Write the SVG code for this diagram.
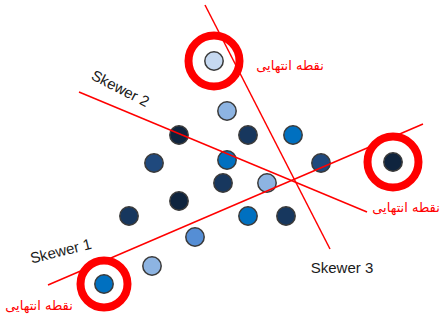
<svg xmlns="http://www.w3.org/2000/svg" width="440" height="321" viewBox="0 0 440 321">
<style>
.dot{stroke:#3a3a3a;stroke-width:1.5}
.ring{fill:none;stroke:#FF0000;stroke-width:8}
.skewer{stroke:#FF0000;stroke-width:1.5;fill:none}
.lbl{font-family:"Liberation Sans",Arial,sans-serif;font-size:15px;fill:#1a1a1a;text-anchor:middle}
.ar{font-family:"DejaVu Sans",sans-serif;font-size:13px;fill:#FF0000;text-anchor:middle}
</style>
<rect width="440" height="321" fill="#fff"/>
<g id="dots">
<g id="p1"><circle class="dot" cx="214" cy="61" r="9.2" fill="#C6D9F1"/></g>
<g id="p2"><circle class="dot" cx="227" cy="111" r="9.2" fill="#8DB4E2"/></g>
<g id="p3"><circle class="dot" cx="179" cy="135" r="9.2" fill="#0F243E"/></g>
<g id="p4"><circle class="dot" cx="248" cy="135" r="9.2" fill="#17375E"/></g>
<g id="p5"><circle class="dot" cx="293" cy="135" r="9.2" fill="#0070C0"/></g>
<g id="p6"><circle class="dot" cx="154" cy="163" r="9.2" fill="#1F497D"/></g>
<g id="p7"><circle class="dot" cx="227" cy="160" r="9.2" fill="#0070C0"/></g>
<g id="p8"><circle class="dot" cx="321" cy="163" r="9.2" fill="#1F497D"/></g>
<g id="p9"><circle class="dot" cx="223" cy="183" r="9.2" fill="#17375E"/></g>
<g id="p10"><circle class="dot" cx="267" cy="183" r="9.2" fill="#8DB4E2"/></g>
<g id="p11"><circle class="dot" cx="179" cy="201" r="9.2" fill="#0F243E"/></g>
<g id="p12"><circle class="dot" cx="129" cy="216" r="9.2" fill="#17375E"/></g>
<g id="p13"><circle class="dot" cx="248" cy="216" r="9.2" fill="#0070C0"/></g>
<g id="p14"><circle class="dot" cx="286" cy="216" r="9.2" fill="#17375E"/></g>
<g id="p15"><circle class="dot" cx="195" cy="237" r="9.2" fill="#558ED5"/></g>
<g id="p16"><circle class="dot" cx="152" cy="266" r="9.2" fill="#8DB4E2"/></g>
<g id="p17"><circle class="dot" cx="104" cy="284" r="9.2" fill="#0070C0"/></g>
<g id="p18"><circle class="dot" cx="393" cy="162" r="9.2" fill="#0F243E"/></g>
</g>
<g id="connectors">
<line class="skewer" x1="48" y1="285" x2="423" y2="124"/>
<line class="skewer" x1="79" y1="92" x2="367" y2="212"/>
<line class="skewer" x1="205" y1="5" x2="330" y2="249"/>
</g>
<g id="endpoints">
<g id="end-top"><circle class="ring" cx="214" cy="61" r="25.5"/><text class="ar" x="290" y="70">نقطه انتهایی</text></g>
<g id="end-right"><circle class="ring" cx="393" cy="162" r="25.5"/><text class="ar" x="406" y="212">نقطه انتهایی</text></g>
<g id="end-left"><circle class="ring" cx="104" cy="284" r="23.5"/><text class="ar" x="39" y="310">نقطه انتهایی</text></g>
</g>
<g id="labels">
<text class="lbl" transform="translate(118,93) rotate(27)">Skewer 2</text>
<text class="lbl" transform="translate(62,256) rotate(-14)">Skewer 1</text>
<text class="lbl" x="342" y="273">Skewer 3</text>
</g>
</svg>
